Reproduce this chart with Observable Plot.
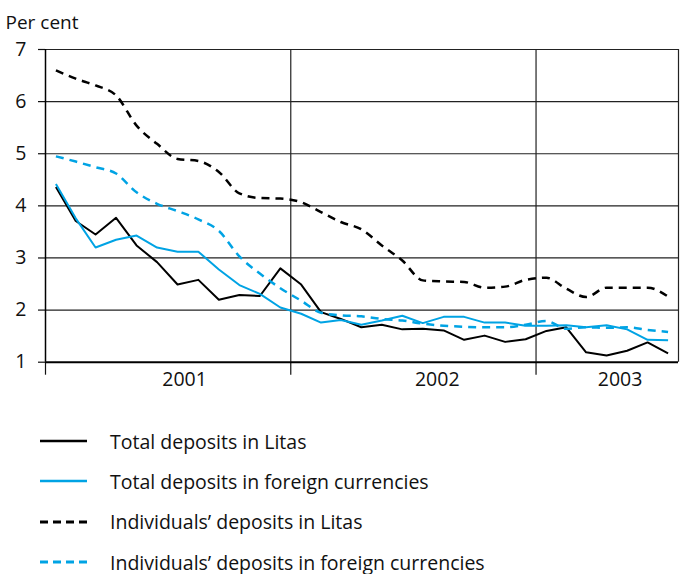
<!DOCTYPE html>
<html><head><meta charset="utf-8">
<script src="https://cdn.jsdelivr.net/npm/d3@7"></script>
<script src="https://cdn.jsdelivr.net/npm/@observablehq/plot@0.6"></script>
<style>
body{margin:0;background:#fff;font-family:"Open Sans",sans-serif;color:#111;}
#chart svg{display:block;}
#legend{margin-top:21px;}
.row{display:flex;align-items:center;height:40.3px;}
.row svg{margin-left:40px;margin-right:23px;}
.row span{font-size:19.5px;}
</style></head><body>
<div id="chart"></div>
<div id="legend"></div>
<script>
const months = ["2001-01","2001-02","2001-03","2001-04","2001-05","2001-06","2001-07","2001-08","2001-09","2001-10","2001-11","2001-12",
"2002-01","2002-02","2002-03","2002-04","2002-05","2002-06","2002-07","2002-08","2002-09","2002-10","2002-11","2002-12",
"2003-01","2003-02","2003-03","2003-04","2003-05","2003-06","2003-07"];
const totalLitas = [4.36,3.71,3.45,3.77,3.24,2.92,2.49,2.58,2.20,2.29,2.27,2.80,2.49,1.96,1.83,1.67,1.72,1.63,1.64,1.61,1.43,1.51,1.39,1.44,1.60,1.67,1.19,1.13,1.22,1.38,1.17];
const totalForeign = [4.42,3.76,3.20,3.35,3.43,3.20,3.12,3.12,2.78,2.48,2.31,2.05,1.93,1.76,1.81,1.72,1.80,1.89,1.75,1.87,1.87,1.76,1.76,1.70,1.70,1.71,1.67,1.71,1.63,1.43,1.42];
const indivLitas = [6.60,6.44,6.31,6.12,5.54,5.19,4.90,4.86,4.65,4.24,4.15,4.14,4.07,3.88,3.69,3.55,3.24,2.95,2.57,2.55,2.54,2.43,2.45,2.58,2.62,2.41,2.25,2.43,2.43,2.43,2.26];
const indivForeign = [4.95,4.85,4.74,4.62,4.26,4.04,3.90,3.74,3.52,3.03,2.70,2.42,2.18,1.95,1.90,1.88,1.83,1.80,1.74,1.70,1.68,1.67,1.67,1.72,1.79,1.64,1.67,1.66,1.67,1.62,1.58];
const seriesNames = ["Total deposits in Litas","Total deposits in foreign currencies","Individuals\u2019 deposits in Litas","Individuals\u2019 deposits in foreign currencies"];
const yTicks = [1,2,3,4,5,6,7];
const yearStarts = ["2001-01-01","2002-01-01","2003-01-01"];
const yearLabels = ["2001","2002","2003"];
const yearLabelAt = ["2001-07-27","2002-08-07","2003-05-06"];
const domainEnd = "2003-08-01";

const BLUE = "#00a3e4";
const styles = [
  {stroke:"#000", dash:null},
  {stroke:BLUE, dash:null},
  {stroke:"#000", dash:"8,6"},
  {stroke:BLUE, dash:"8,6"}
];
const parseM = d3.utcParse("%Y-%m");
const mid = m => { const a = parseM(m); const b = d3.utcMonth.offset(a,1); return new Date((+a + +b)/2); };
const allSeries = [totalLitas,totalForeign,indivLitas,indivForeign];
const data = allSeries.map((vals,k)=>vals.map((v,i)=>({date:mid(months[i]),value:v,name:seriesNames[k]})));
const x0 = new Date(yearStarts[0]), x1 = new Date(domainEnd);

const chart = Plot.plot({
  width:683, height:400,
  marginLeft:45, marginRight:5, marginTop:49, marginBottom:38.3,
  style:{fontFamily:"'Open Sans',sans-serif", fontSize:"19.5px", color:"#111", background:"#fff"},
  x:{type:"utc", domain:[x0,x1]},
  y:{domain:[1,7]},
  marks:[
    Plot.ruleY(yTicks.slice(1), {stroke:"#222", strokeWidth:1.2, strokeOpacity:1}),
    Plot.ruleX([x1], {stroke:"#222", strokeWidth:1.2}),
    Plot.ruleX(yearStarts.slice(1).map(d=>new Date(d)), {stroke:"#222", strokeWidth:1.2}),
    Plot.axisY({ticks:yTicks, tickSize:7, tickPadding:12, tickFormat:d=>String(d), label:null, fontSize:19.5, strokeWidth:1.2}),
    Plot.axisX({ticks:yearStarts.map(d=>new Date(d)), tickSize:13, tickFormat:()=> "", label:null, strokeWidth:1.2}),
    Plot.ruleX([x0], {stroke:"#000", strokeWidth:1.5}),
    Plot.ruleY([1], {stroke:"#000", strokeWidth:2}),
    Plot.text(yearLabels, {x:(d,i)=>new Date(yearLabelAt[i]), frameAnchor:"bottom", dy:24, text:d=>d, fontSize:19.5}),
    Plot.text(["Per cent"], {frameAnchor:"top-left", dx:-40, dy:-34, text:d=>d, fontSize:19, textAnchor:"start"}),
    ...data.map((d,k)=>Plot.line(d, {x:"date", y:"value", stroke:styles[k].stroke, strokeWidth:styles[k].dash?2.5:2,
      strokeDasharray:styles[k].dash, strokeLinecap:"butt", strokeLinejoin:"round", curve: styles[k].dash?"monotone-x":"linear"}))
  ]
});
document.getElementById("chart").appendChild(chart);

const leg = document.getElementById("legend");
seriesNames.forEach((n,k)=>{
  const row = document.createElement("div"); row.className="row";
  const dash = styles[k].dash ? `stroke-dasharray="8,5"` : "";
  row.innerHTML = `<svg width="47" height="6"><line x1="0" y1="3" x2="47" y2="3" stroke="${styles[k].stroke}" stroke-width="${styles[k].dash?3:2.5}" ${dash}/></svg><span>${n}</span>`;
  leg.appendChild(row);
});
</script>
</body></html>
